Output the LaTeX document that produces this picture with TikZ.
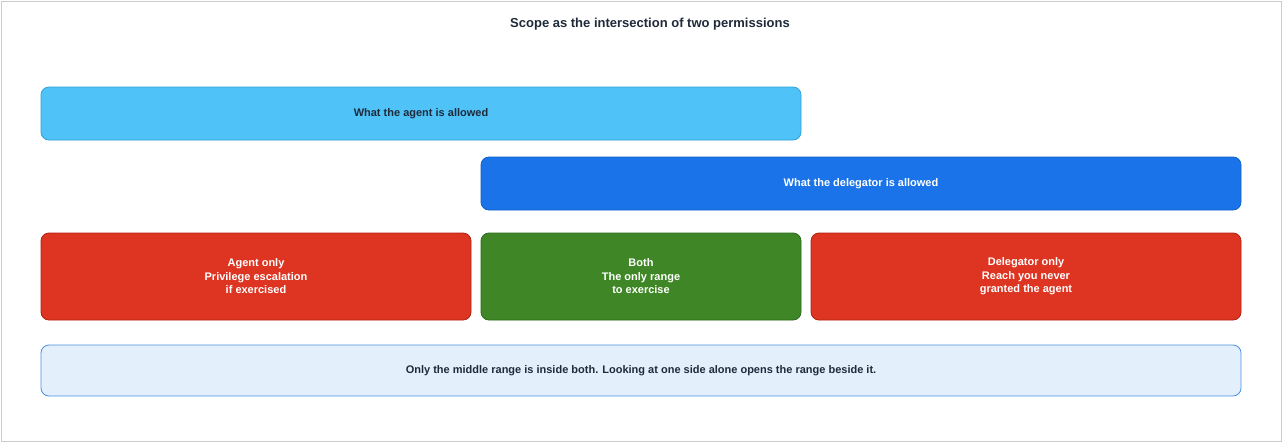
\documentclass[tikz,border=0pt]{standalone}
\usepackage{fontspec}
\setmainfont{Liberation Sans}
\definecolor{lb}{HTML}{4FC3F7}
\definecolor{lbd}{HTML}{2FA3D7}
\definecolor{db}{HTML}{1A73E8}
\definecolor{dbd}{HTML}{1060C8}
\definecolor{rd}{HTML}{DD3522}
\definecolor{rdd}{HTML}{B02010}
\definecolor{gr}{HTML}{3F8726}
\definecolor{grd}{HTML}{2A6A18}
\definecolor{pb}{HTML}{E3F0FC}
\definecolor{pbd}{HTML}{4A90E2}
\definecolor{txt}{HTML}{1F2A3A}
\begin{document}
\begin{tikzpicture}[x=1pt,y=-1pt,
  box/.style={draw,rounded corners=8pt,line width=0.8pt,font=\bfseries\fontsize{11}{13.5}\selectfont,align=center,inner sep=0pt}]
\draw[draw=gray!40,fill=white,line width=1pt] (1,1) rectangle (1281,441);
\useasboundingbox (0,0) rectangle (1282,442);
\node[font=\bfseries\fontsize{13}{15}\selectfont,text=txt] (t) at (650,24) {Scope as the intersection of two permissions};
\node[box,fill=lb,draw=lbd,text=txt,minimum width=760pt,minimum height=53pt] (a) at (421,113.5) {What the agent is allowed};
\node[box,fill=db,draw=dbd,text=white,minimum width=760pt,minimum height=53pt] (d) at (861,183.5) {What the delegator is allowed};
\node[box,fill=rd,draw=rdd,text=white,minimum width=430pt,minimum height=87pt] (r1) at (256,276.5) {Agent only\\Privilege escalation\\if exercised};
\node[box,fill=gr,draw=grd,text=white,minimum width=320pt,minimum height=87pt] (g) at (641,276.5) {Both\\The only range\\to exercise};
\node[box,fill=rd,draw=rdd,text=white,minimum width=430pt,minimum height=87pt] (r2) at (1026,276.5) {Delegator only\\Reach you never\\granted the agent};
\node[box,fill=pb,draw=pbd,text=txt,minimum width=1200pt,minimum height=51pt] (n) at (641,370.5) {Only the middle range is inside both. Looking at one side alone opens the range beside it.};
\end{tikzpicture}
\end{document}
